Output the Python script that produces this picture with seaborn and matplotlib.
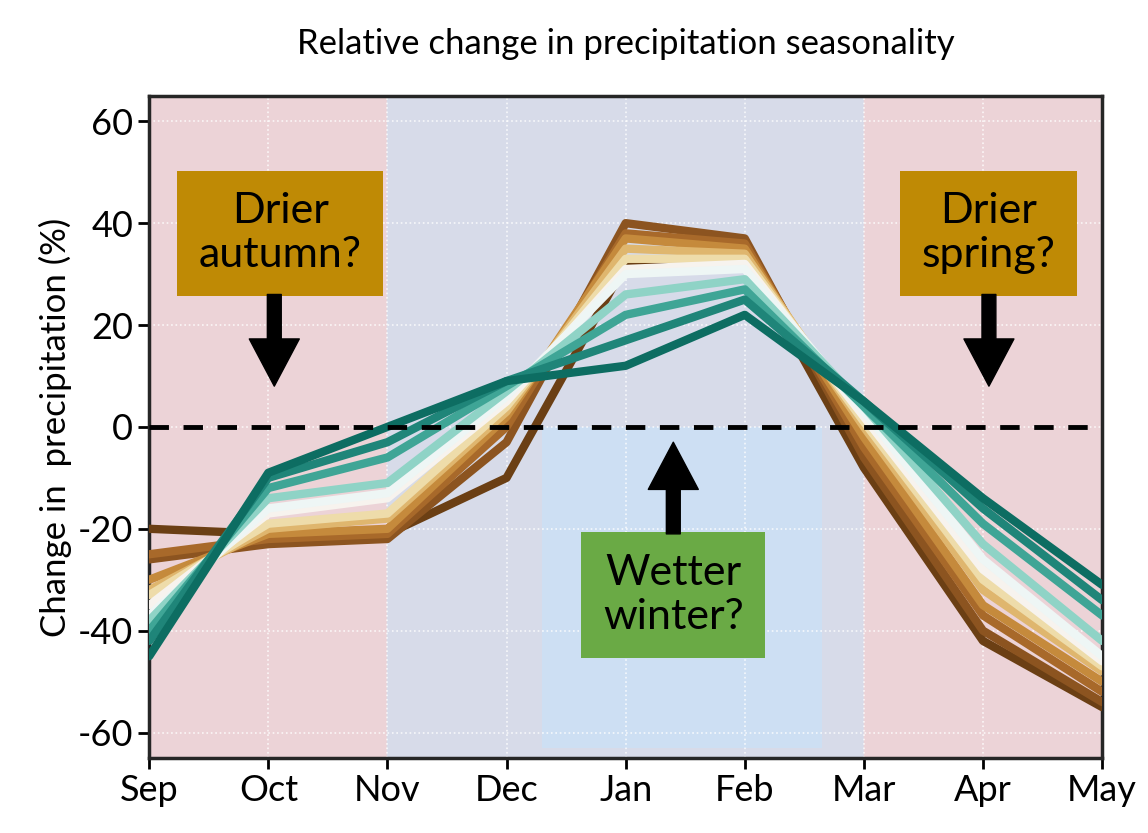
import matplotlib
matplotlib.use("Agg")
import matplotlib.pyplot as plt
import seaborn as sns
import pandas as pd
import numpy as np

months = ["Sep", "Oct", "Nov", "Dec", "Jan", "Feb", "Mar", "Apr", "May"]
s01 = [-20, -21, -21, -10, 32, 34, -8, -42, -55]
s02 = [-26, -23, -22, -3, 40, 37, -6, -40, -54]
s03 = [-25, -22, -21, 0, 38, 36, -4, -37, -52]
s04 = [-30, -21, -20, 2, 37, 35, -2, -35, -50]
s05 = [-32, -20, -18, 3, 35, 34, 0, -32, -48]
s06 = [-33, -19, -17, 4, 33, 33, 1, -30, -47]
s07 = [-35, -17, -14, 5, 31, 32, 2, -28, -46]
s08 = [-37, -16, -13, 6, 30, 31, 3, -26, -45]
s09 = [-38, -14, -11, 7, 26, 29, 4, -23, -42]
s10 = [-40, -12, -6, 8, 22, 27, 4, -19, -37]
s11 = [-42, -10, -3, 9, 17, 25, 5, -16, -34]
s12 = [-45, -9, 0, 9, 12, 22, 5, -14, -31]
series = [s01, s02, s03, s04, s05, s06, s07, s08, s09, s10, s11, s12]

rows = []
for i, s in enumerate(series):
    for m, v in zip(months, s):
        rows.append({"month": m, "x": months.index(m), "value": v, "run": i})
df = pd.DataFrame(rows)

sns.set_style("white")
plt.rcParams["font.family"] = ["Lato", "DejaVu Sans"]
plt.rcParams["axes.unicode_minus"] = False
plt.rcParams["text.color"] = "black"
plt.rcParams["xtick.color"] = "black"
plt.rcParams["ytick.color"] = "black"
plt.rcParams["axes.labelcolor"] = "black"

fig, ax = plt.subplots(figsize=(11.48, 8.33), dpi=100)
fig.subplots_adjust(left=0.13, right=0.96, top=0.885, bottom=0.09)

ax.axvspan(0, 2, color="#ecd3d7", zorder=0)
ax.axvspan(2, 6, color="#d7dbe9", zorder=0)
ax.axvspan(6, 8, color="#ecd3d7", zorder=0)
ax.fill_between([3.3, 5.65], -63, 0, color="#cddff3", zorder=0.5, lw=0)
ax.grid(True, color="white", linestyle=":", linewidth=1.2, alpha=0.8)
ax.set_axisbelow(True)

pal = ["#6b3f14", "#8c5420", "#a8692a", "#c58a3c", "#dfb66e", "#eedcaa",
       "#f7f3ee", "#eef6f5", "#8fd3c6", "#3fa596", "#1f8579", "#0d6d62"]
sns.lineplot(data=df, x="x", y="value", hue="run", palette=pal, linewidth=6,
             legend=False, ax=ax, zorder=3)

ax.axhline(0, color="black", linestyle=(0, (4, 3)), linewidth=3.5, zorder=4)

ax.set_xlim(0, 8)
ax.set_ylim(-65, 65)
ax.set_xticks(range(9))
ax.set_xticklabels(months)
ax.set_yticks([-60, -40, -20, 0, 20, 40, 60])
ax.tick_params(labelsize=26, length=8, width=2, direction="out", bottom=True, left=True)
for sp in ax.spines.values():
    sp.set_linewidth(2.5)
ax.set_xlabel("")
ax.set_ylabel("Change in  precipitation (%)", fontsize=25)
ax.set_title("Relative change in precipitation seasonality", fontsize=25, pad=30)

box = dict(boxstyle="square,pad=0.5", fc="#bf8a05", ec="none")
ax.text(1.1, 38, "Drier\nautumn?", ha="center", va="center", fontsize=31, bbox=box, zorder=6)
ax.text(7.05, 38, "Drier\nspring?", ha="center", va="center", fontsize=31, bbox=box, zorder=6)
ax.text(4.4, -33, "Wetter\nwinter?", ha="center", va="center", fontsize=31,
        bbox=dict(boxstyle="square,pad=0.5", fc="#6aaa45", ec="none"), zorder=6)

arr = dict(width=10, headwidth=36, headlength=34, color="black")
ax.annotate("", xy=(1.05, 8), xytext=(1.05, 26), arrowprops=arr, zorder=6)
ax.annotate("", xy=(7.05, 8), xytext=(7.05, 26), arrowprops=arr, zorder=6)
ax.annotate("", xy=(4.4, -3), xytext=(4.4, -21), arrowprops=arr, zorder=6)

plt.savefig("out.png", dpi=100)
